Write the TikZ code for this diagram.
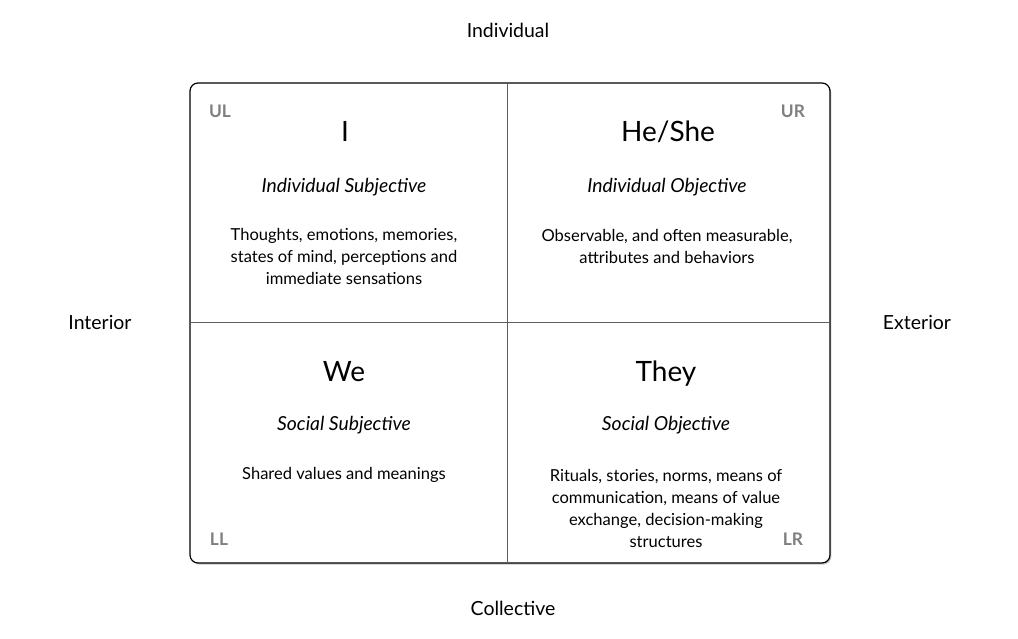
\documentclass[tikz,border=0pt]{standalone}
\usepackage{fontspec}
\setmainfont{Lato}
\usepackage{xcolor}
\usepackage{tikz}
\usetikzlibrary{shadows}
\definecolor{gridgray}{HTML}{5F5F5F}
\definecolor{taggray}{HTML}{7F7F7F}

\begin{document}
\begin{tikzpicture}
	[
		x = 0.75pt, y = -0.75pt,
		every node/.style = {align=center, inner sep=0pt},
		axis/.style = {font=\fontsize{14.6}{17}\selectfont},
		tag/.style = {font=\fontsize{13}{15}\bfseries\selectfont, text=taggray},
		pronoun/.style = {anchor=base, font=\fontsize{21}{24}\selectfont},
		quadname/.style = {anchor=base, font=\fontsize{14.5}{17}\itshape\selectfont},
		body/.style = {font=\fontsize{12.4}{16.5}\selectfont},
	]
  \useasboundingbox (0,0) rectangle (1018,639);

  % frame and quadrant lines
  \draw[line width=0.9pt, rounded corners=6pt, fill=white,
        drop shadow={shadow xshift=1pt, shadow yshift=-1.2pt, opacity=0.45}]
  	(190,83) rectangle (830,563);
  \draw[gridgray, line width=0.75pt] (507,83) -- (507,563);
  \draw[gridgray, line width=0.75pt] (190,322) -- (830,322);

  % axis labels
  \node[axis] (individual) at (508,30) {Individual};
  \node[axis] (collective) at (513,608) {Collective};
  \node[axis] (interior) at (100,322) {Interior};
  \node[axis] (exterior) at (917,322) {Exterior};

  % corner tags
  \node[tag] (UL) at (220,111) {UL};
  \node[tag] (UR) at (793,111) {UR};
  \node[tag] (LL) at (219,539) {LL};
  \node[tag] (LR) at (793,539) {LR};

  % upper left
  \node[pronoun] (I) at (345,141) {I};
  \node[quadname] (indsubj) at (344,192) {Individual Subjective};
  \node[body] (thoughts) at (344,256.5) {Thoughts, emotions, memories,\\ states of mind, perceptions and\\ immediate sensations};

  % upper right
  \node[pronoun] (heshe) at (668,141) {He/She};
  \node[quadname] (indobj) at (667,192) {Individual Objective};
  \node[body] (observable) at (667,246) {Observable, and often measurable,\\ attributes and behaviors};

  % lower left
  \node[pronoun] (we) at (344,381) {We};
  \node[quadname] (socsubj) at (344,430.5) {Social Subjective};
  \node[body] (shared) at (344,475) {Shared values and meanings};

  % lower right
  \node[pronoun] (they) at (666,381) {They};
  \node[quadname] (socobj) at (666,430.5) {Social Objective};
  \node[body] (rituals) at (666,508) {Rituals, stories, norms, means of\\ communication, means of value\\ exchange, decision-making\\ structures};

\end{tikzpicture}
\end{document}
